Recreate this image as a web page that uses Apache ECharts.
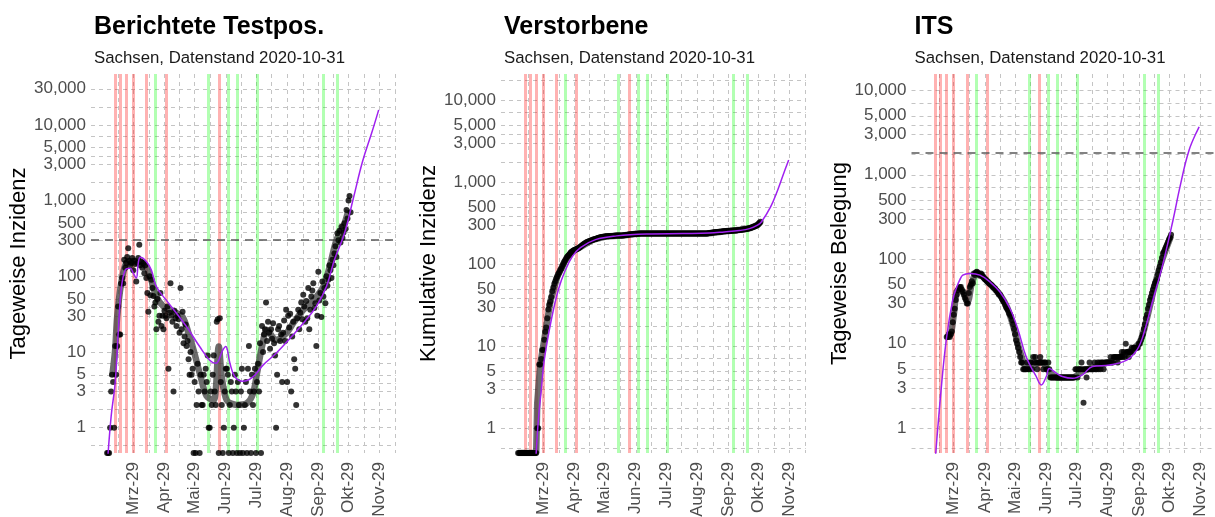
<!DOCTYPE html>
<html><head><meta charset="utf-8">
<script src="https://cdn.jsdelivr.net/npm/echarts@6/dist/echarts.min.js"></script>
<style>html,body{margin:0;padding:0;background:#fff}#c{width:1215px;height:517px}</style>
</head><body><div id="c"></div>
<script>
// ---------------- data ----------------
const monthNames = ['Jan','Feb','Mrz','Apr','Mai','Jun','Jul','Aug','Sep','Okt','Nov','Dez'];
const panelTitles = ['Berichtete Testpos.', 'Verstorbene', 'ITS'];
const panelSubtitle = 'Sachsen, Datenstand 2020-10-31';
const yAxisNames = ['Tageweise Inzidenz', 'Kumulative Inzidenz', 'Tageweise Belegung'];
const yTickValues = [1, 3, 5, 10, 30, 50, 100, 300, 500, 1000, 3000, 5000, 10000, 30000];
const xTickDates = ['2020-03-29','2020-04-29','2020-05-29','2020-06-29','2020-07-29','2020-08-29','2020-09-29','2020-10-29','2020-11-29'];
const redEvents = ['2020-03-11','2020-03-16','2020-03-22','2020-03-29','2020-04-11','2020-05-01','2020-06-22'];
const greenEvents = ['2020-04-20','2020-06-12','2020-07-01','2020-07-10','2020-07-30','2020-10-04','2020-10-18'];
const thresholds = [300, null, 1830];

// Panel 1: reported positives per day, from 2020-03-03
const testposStart = '2020-03-03';
const testposDaily = [
  0, 0, 0, 1, 3, 5, 4,
  1, 12, 5, 12, 40, 17, 17,
  80, 95, 80, 165, 130, 150, 180,
  235, 160, 140, 150, 175, 120, 160,
  145, 85, 150, 175, 260, 140, 155,
  130, 150, 110, 140, 95, 60, 34,
  100, 56, 90, 70, 55, 40, 45,
  20, 50, 25, 30, 60, 22, 30,
  20, 35, 30, 28, 40, 6, 33,
  81, 30, 25, 3, 35, 28, 22,
  30, 27, 18, 70, 20, 34, 13,
  16, 23, 12, 14, 8, 5, 10,
  5, 6, 0, 4, 0, 2, 7,
  3, 0, 5, 2, 2, 5, 3,
  6, 4, 9, 1, 1, 3, 2,
  5, 9, 3, 2, 25, 27, 0,
  28, 4, 2, 0, 1, 3, 6,
  6, 5, 0, 2, 4, 3, 0,
  1, 5, 3, 0, 4, 2, 0,
  3, 6, 0, 1, 2, 4, 0,
  6, 12, 3, 0, 5, 2, 3,
  6, 0, 4, 7, 3, 13, 0,
  22, 10, 17, 20, 45, 14, 25,
  18, 11, 20, 15, 24, 13, 9,
  1, 5, 20, 22, 14, 17, 4,
  18, 26, 14, 36, 4, 30, 21,
  32, 3, 16, 25, 8, 6, 2,
  28, 36, 20, 33, 45, 27, 57,
  40, 25, 47, 28, 70, 20, 36,
  54, 65, 81, 38, 44, 12, 30,
  115, 48, 60, 29, 85, 54, 70,
  44, 100, 75, 90, 140, 120, 95,
  165, 140, 200, 250, 180, 370, 300,
  400, 280, 450, 320, 380, 500, 420,
  750, 580, 1000, 1150, 700
];
const testposTrend = [
  ['2020-03-08',4.7],['2020-03-11',10.6],['2020-03-13',29],['2020-03-17',81],['2020-03-22',150],
  ['2020-03-27',157],['2020-04-04',157],['2020-04-11',134],['2020-04-16',89],['2020-04-21',54],
  ['2020-04-28',40],['2020-05-08',34],['2020-05-17',29],['2020-05-23',17.6],['2020-05-28',10.6],
  ['2020-06-04',4.7],['2020-06-10',2.6],['2020-06-17',2.3],['2020-06-22',11.8],['2020-06-25',4.7],
  ['2020-06-30',2.3],['2020-07-10',2.0],['2020-07-20',2.1],['2020-07-26',2.8],['2020-07-30',5.2],
  ['2020-08-04',11.8],['2020-08-09',19.5],['2020-08-18',14.4],['2020-08-28',17.6],['2020-09-04',24],
  ['2020-09-14',36],['2020-09-24',48],['2020-10-04',73],['2020-10-10',130],['2020-10-17',300],
  ['2020-10-24',456],['2020-10-29',750]
];
const testposModel = [
  ['2020-03-03',0.3],['2020-03-07',1.4],['2020-03-11',3.9],['2020-03-14',17.6],['2020-03-17',66],
  ['2020-03-21',121],['2020-03-26',128],['2020-03-29',110],['2020-04-01',95],['2020-04-03',150],
  ['2020-04-05',178],['2020-04-11',157],['2020-04-16',121],['2020-04-21',73],['2020-05-01',48],
  ['2020-05-11',32.5],['2020-05-21',21.6],['2020-06-03',11.8],['2020-06-13',7.8],['2020-06-19',7.1],
  ['2020-06-26',10.6],['2020-06-29',11.8],['2020-07-03',7.2],['2020-07-08',4.7],['2020-07-16',4.1],
  ['2020-07-26',4.7],['2020-08-05',6.7],['2020-08-18',9.6],['2020-09-01',15.2],['2020-09-14',24],
  ['2020-09-27',40],['2020-10-07',73],['2020-10-15',165],['2020-10-25',370],['2020-11-03',1100],
  ['2020-11-12',3300],['2020-11-21',7800],['2020-11-28',15800]
];

// Panel 2: cumulative deaths, from 2020-03-04
const deathsStart = '2020-03-04';
const deathsCumulative = [
  0,0,0,0,0,0,0,
  0,0,0,0,0,0,0,
  0,0,0,0,0,1,1,
  6,6,7,9,9,12,15,
  17,22,28,32,35,40,47,
  52,58,62,67,71,76,80,
  85,89,95,101,107,113,119,
  124,128,132,137,141,144,147,
  149,151,153,155,157,160,164,
  168,172,175,179,182,185,188,
  190,192,194,196,198,200,202,
  204,206,208,210,212,213,215,
  216,217,218,218,219,220,220,
  221,221,222,222,223,223,224,
  224,224,225,225,225,225,225,
  226,226,227,228,229,230,231,
  232,232,233,234,234,235,235,
  236,236,237,237,237,237,237,
  237,237,237,237,237,237,237,
  237,237,237,237,237,237,237,
  237,237,237,237,237,237,237,
  237,237,237,237,237,237,237,
  237,237,237,237,238,238,238,
  238,238,238,238,238,238,238,
  238,238,238,238,238,238,238,
  238,238,238,238,238,238,238,
  238,238,238,238,238,238,
  238,239,240,241,242,243,244,
  245,246,246,247,248,249,250,
  250,251,252,252,253,254,254,
  255,255,256,257,257,258,258,
  259,259,260,261,262,263,264,
  265,266,267,268,270,271,273,
  275,277,280,283,286,289,293,
  297,302,310,318,330
];
const deathsTrend = [
  ['2020-03-04',0],['2020-03-22',0],['2020-03-23',2],['2020-03-26',6],['2020-03-30',12],
  ['2020-04-05',35],['2020-04-12',71],['2020-04-19',107],['2020-04-26',141],['2020-05-03',157],
  ['2020-05-17',198],['2020-05-30',218],['2020-06-16',225],['2020-07-02',237],['2020-09-08',238],
  ['2020-09-24',251],['2020-10-11',264],['2020-10-21',277],['2020-10-28',302],['2020-10-31',330]
];
const deathsModel = [
  ['2020-03-21',0.3],['2020-03-24',1.2],['2020-03-27',2.9],['2020-03-30',6.8],['2020-04-06',21],
  ['2020-04-13',49],['2020-04-20',85],['2020-04-27',125],['2020-05-05',160],['2020-05-20',200],
  ['2020-06-10',222],['2020-07-10',234],['2020-08-15',237],['2020-09-10',240],['2020-09-25',248],
  ['2020-10-10',258],['2020-10-20',272],['2020-10-28',300],['2020-11-01',330],['2020-11-10',500],
  ['2020-11-17',800],['2020-11-23',1280],['2020-11-28',1870]
];

// Panel 3: ICU occupancy per day, from 2020-03-22
const itsStart = '2020-03-22';
const itsDaily = [
  12, 12, 13, 12, 13, 14, 18,
  22, 26, 33, 38, 43, 45, 47,
  47, 44, 41, 38, 35, 33, 30,
  30, 40, 47, 50, 55, 52, 68,
  65, 70, 71, 69, 66, 64, 68,
  66, 62, 60, 58, 57, 55, 54,
  52, 51, 50, 49, 47, 46, 45,
  43, 42, 40, 38, 38, 36, 34,
  32, 31, 29, 27, 26, 25, 23,
  22, 21, 19, 17, 15, 13, 11,
  10, 9, 8, 7, 6, 6, 5,
  5, 5, 5, 6, 5, 5, 6,
  6, 5, 7, 6, 7, 6, 5,
  6, 6, 7, 6, 6, 5, 6,
  6, 5, 5, 6, 5, 4, 4,
  4, 4, 4, 4, 4, 4, 4,
  4, 4, 4, 4, 4, 4, 4,
  4, 4, 4, 4, 4, 4, 4,
  4, 4, 5, 5, 4, 5, 5,
  5, 6, 5, 2, 5, 5, 4,
  5, 5, 6, 5, 5, 5, 5,
  6, 5, 5, 6, 5, 6, 5,
  6, 6, 5, 6, 6, 6, 6,
  6, 6, 7, 6, 6, 7, 7,
  7, 7, 6, 7, 7, 7, 8,
  7, 8, 7, 10, 8, 8, 7,
  8, 8, 9, 8, 9, 9, 9,
  9, 9, 10, 10, 11, 12, 13,
  15, 17, 20, 22, 26, 29, 33,
  36, 40, 44, 48, 52, 55, 58,
  66, 74, 82, 92, 104, 118, 124,
  132, 141, 150, 160, 172, 180, 195
];
const itsTrend = [
  ['2020-03-22',12],['2020-03-26',13],['2020-03-29',22],['2020-04-02',43],['2020-04-08',41],
  ['2020-04-12',32],['2020-04-16',52],['2020-04-21',70],['2020-04-27',62],['2020-05-07',47],
  ['2020-05-14',38],['2020-05-21',27],['2020-05-28',15],['2020-06-03',8],['2020-06-10',5.3],
  ['2020-06-24',6],['2020-07-03',4.5],['2020-07-10',4],['2020-07-25',4],['2020-08-05',4.8],
  ['2020-08-20',5.5],['2020-09-05',6.5],['2020-09-20',8.2],['2020-09-30',10.5],['2020-10-07',20],
  ['2020-10-14',45],['2020-10-21',90],['2020-10-31',190]
];
const itsModel = [
  ['2020-03-10',0.35],['2020-03-17',3.4],['2020-03-22',12.2],['2020-03-28',33],['2020-04-01',47],
  ['2020-04-04',57],['2020-04-07',65],['2020-04-14',68],['2020-04-24',65],['2020-05-04',54],
  ['2020-05-14',41],['2020-05-24',26],['2020-06-01',14.6],['2020-06-09',7.0],['2020-06-19',4.1],
  ['2020-06-24',3.26],['2020-06-29',4.1],['2020-07-02',5.1],['2020-07-09',4.5],['2020-07-15',4.1],
  ['2020-07-25',3.9],['2020-08-04',4.3],['2020-08-14',5.4],['2020-08-31',5.6],['2020-09-17',6.4],
  ['2020-09-27',8.4],['2020-10-03',12.2],['2020-10-13',33],['2020-10-23',89],['2020-11-02',292],
  ['2020-11-09',730],['2020-11-18',1970],['2020-11-28',3700]
];

// ---------------- chart building ----------------
const FONT = "'Liberation Sans', Arial, Helvetica, sans-serif";
function ts(s) { const p = s.split('-').map(Number); return new Date(p[0], p[1] - 1, p[2]).getTime(); }
function daily(start, values, floor) {
  const t0 = new Date(ts(start));
  return values.map((v, i) => {
    const dt = new Date(t0.getFullYear(), t0.getMonth(), t0.getDate() + i);
    return [dt.getTime(), v > 0 ? v : floor];
  });
}
function knots(list, floor) { return list.map(p => [ts(p[0]), p[1] > 0 ? p[1] : floor]); }

const panels = [
  {left: 91,    yMin: 0.463, yMax: 47000, dots: [testposStart, testposDaily], trend: testposTrend, model: testposModel, trendSmooth: 0.3},
  {left: 501,   yMin: 0.5,   yMax: 20900, dots: [deathsStart, deathsCumulative], trend: deathsTrend, model: deathsModel, trendSmooth: false},
  {left: 911.5, yMin: 0.51,  yMax: 15600, dots: [itsStart, itsDaily], trend: itsTrend, model: itsModel, trendSmooth: 0.3}
];
const PANEL_W = 304.8, PANEL_TOP = 74, PANEL_H = 379;
const xMin = ts('2020-02-16'), xMax = ts('2020-12-15');

const xMajor = xTickDates.map(ts);
const xExt = [ts('2020-02-29')].concat(xMajor, [ts('2020-12-29')]);
const xGrid = xMajor.slice();
for (let i = 0; i < xExt.length - 1; i++) xGrid.push((xExt[i] + xExt[i + 1]) / 2);
const yExt = [1 / 3].concat(yTickValues, [90000]);
const yGrid = yTickValues.slice();
for (let i = 0; i < yExt.length - 1; i++) yGrid.push(Math.sqrt(yExt[i] * yExt[i + 1]));

const gridLine = {show: true, lineStyle: {color: '#c4c4c4', width: 1, type: [4, 4]}};

const option = {
  animation: false,
  backgroundColor: '#ffffff',
  title: [], grid: [], xAxis: [], yAxis: [], series: []
};

panels.forEach((p, i) => {
  option.title.push({
    text: panelTitles[i], subtext: panelSubtitle,
    left: p.left + 3, top: 15, itemGap: 10, padding: 0,
    textStyle: {fontFamily: FONT, fontSize: 25, fontWeight: 'bold', color: '#000'},
    subtextStyle: {fontFamily: FONT, fontSize: 16.8, color: '#1a1a1a'}
  });
  option.grid.push({left: p.left, top: PANEL_TOP, width: PANEL_W, height: PANEL_H, containLabel: false, outerBoundsMode: 'none'});
  option.xAxis.push({
    type: 'value', gridIndex: i, min: xMin, max: xMax, scale: true,
    axisLine: {show: false}, axisTick: {show: false, customValues: xGrid},
    axisLabel: {
      customValues: xMajor, rotate: 90, margin: 9, fontFamily: FONT, fontSize: 17, color: '#4d4d4d',
      formatter: v => { const dt = new Date(v); return monthNames[dt.getMonth()] + '-' + dt.getDate(); }
    },
    splitLine: gridLine, minorSplitLine: {show: false}
  });
  option.yAxis.push({
    type: 'log', logBase: 10, gridIndex: i, min: p.yMin, max: p.yMax,
    axisLine: {show: false}, axisTick: {show: false, customValues: yGrid},
    axisLabel: {customValues: yTickValues, margin: 5, fontFamily: FONT, fontSize: 17, color: '#4d4d4d',
      formatter: v => Math.round(v).toLocaleString('en-US')},
    splitLine: gridLine, minorSplitLine: {show: false},
    name: yAxisNames[i], nameLocation: 'middle', nameRotate: 90, nameGap: 59,
    nameTextStyle: {fontFamily: FONT, fontSize: 22, color: '#000'}
  });

  const marks = [];
  redEvents.forEach(s => marks.push({xAxis: ts(s), lineStyle: {color: 'rgba(255,0,0,0.3)', width: 3, type: 'solid'}}));
  greenEvents.forEach(s => marks.push({xAxis: ts(s), lineStyle: {color: 'rgba(0,255,0,0.3)', width: 3, type: 'solid'}}));
  if (thresholds[i] != null) marks.push({yAxis: thresholds[i], lineStyle: {color: '#5a5a5a', width: 1.5, type: [8, 6]}});

  option.series.push({
    type: 'line', xAxisIndex: i, yAxisIndex: i, data: knots(p.trend, p.yMin),
    smooth: p.trendSmooth, showSymbol: false, symbol: 'none', silent: true, z: 2,
    lineStyle: {color: 'rgba(60,60,60,0.75)', width: 6.5},
    markLine: {silent: true, z: 1, symbol: ['none', 'none'], label: {show: false}, animation: false, data: marks}
  });
  option.series.push({
    type: 'scatter', xAxisIndex: i, yAxisIndex: i, data: daily(p.dots[0], p.dots[1], p.yMin),
    symbol: 'circle', symbolSize: 6, itemStyle: {color: '#000'}, silent: true, z: 3
  });
  option.series.push({
    type: 'line', xAxisIndex: i, yAxisIndex: i, data: knots(p.model, p.yMin * 0.5),
    smooth: 0.4, showSymbol: false, symbol: 'none', silent: true, z: 4,
    lineStyle: {color: '#a020f0', width: 1.5}
  });
});

const chart = echarts.init(document.getElementById('c'), null, {renderer: 'canvas'});
chart.setOption(option);
</script>
</body></html>
